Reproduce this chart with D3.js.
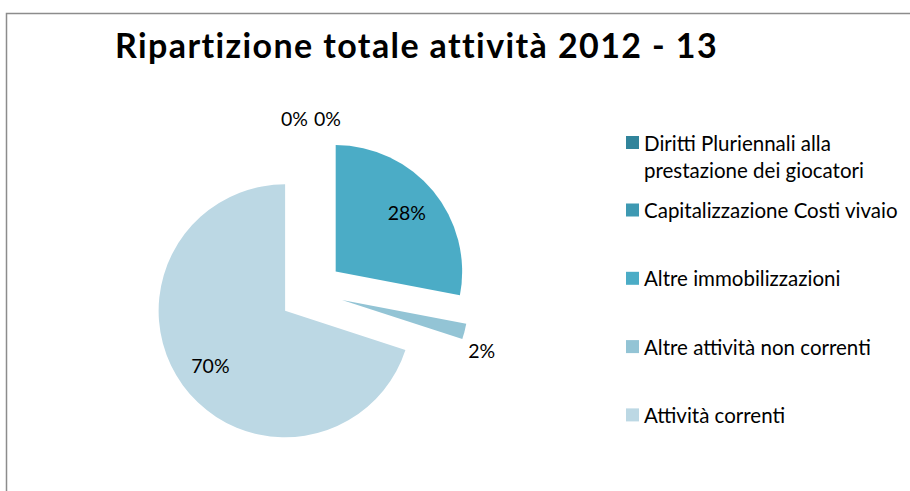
<!DOCTYPE html>
<html>
<head>
<meta charset="utf-8">
<script src="https://cdn.jsdelivr.net/npm/d3@7"></script>
<style>
  body { margin: 0; background: #fff; }
  svg { display: block; }
  text { font-family: Lato, "Noto Sans", sans-serif; fill: #000; }
</style>
</head>
<body>
<svg id="chart" width="910" height="491"></svg>
<script>
// Asset breakdown, season 2012-13
const chartTitle = "Ripartizione totale attività 2012 - 13";
const categories = [
  "Diritti Pluriennali alla prestazione dei giocatori",
  "Capitalizzazione Costi vivaio",
  "Altre immobilizzazioni",
  "Altre attività non correnti",
  "Attività correnti"
];
const values = [0, 0, 28, 2, 70];
const colors = ["#31849B", "#3E99B2", "#4BACC6", "#93C4D5", "#BCD8E4"];

const W = 910, H = 491;
const svg = d3.select("#chart");

// chart frame (runs past the right and bottom edges)
svg.append("rect")
  .attr("x", 6.5).attr("y", 13.5)
  .attr("width", W + 20).attr("height", H + 20)
  .attr("fill", "#fff")
  .attr("stroke", "#8c8c8c")
  .attr("stroke-width", 1.5);

svg.append("text")
  .attr("x", 416.5).attr("y", 57.5)
  .attr("text-anchor", "middle")
  .style("font-weight", "bold")
  .style("font-size", "34px")
  .style("letter-spacing", "1.4px")
  .text(chartTitle);

// exploded pie
const cx = 311, cy = 292, r = 126.5, explode = 32;
const total = d3.sum(values);
const pie = d3.pie().sort(null).value(d => d);
const arcs = pie(values);
const arc = d3.arc().innerRadius(0).outerRadius(r);

const dir = a => [Math.sin(a), -Math.cos(a)];
const mid = d => (d.startAngle + d.endAngle) / 2;
const shift = d => dir(mid(d)).map(v => v * explode);

const g = svg.append("g").attr("transform", `translate(${cx},${cy})`);

g.selectAll("path.slice")
  .data(arcs)
  .join("path")
  .attr("class", "slice")
  .attr("d", arc)
  .attr("fill", (d, i) => colors[i])
  .attr("transform", d => `translate(${shift(d)})`);

// percentage labels: inside for large slices, outside for small ones
const pct = d => Math.round(d.value / total * 100) + "%";
const zeroArcs = arcs.filter(d => d.value === 0);
function labelPos(d) {
  const s = shift(d);
  if (d.value === 0) {
    const k = zeroArcs.indexOf(d);
    const [ux, uy] = dir(d.startAngle);
    const dist = r + explode + 15;
    return [ux * dist + (k - (zeroArcs.length - 1) / 2) * 33, uy * dist];
  }
  if (d.value / total < 0.05) {
    const [ux, uy] = dir(d.endAngle + 0.03);
    return [s[0] + ux * (r + 22), s[1] + uy * (r + 22)];
  }
  const [ux, uy] = dir(mid(d));
  return [s[0] + ux * r * 0.73, s[1] + uy * r * 0.73];
}

g.selectAll("text.pct")
  .data(arcs)
  .join("text")
  .attr("class", "pct")
  .attr("x", d => labelPos(d)[0])
  .attr("y", d => labelPos(d)[1])
  .attr("text-anchor", "middle")
  .attr("dominant-baseline", "central")
  .style("font-size", "19.5px")
  .text(pct);

// legend
const legend = svg.append("g");
const legendY = i => i === 0 ? 142.5 : 210 + (i - 1) * 68.3;
const maxLegendWidth = 272;

categories.forEach((name, i) => {
  const y = legendY(i);
  legend.append("rect")
    .attr("x", 626).attr("y", y - 6.5)
    .attr("width", 13).attr("height", 13)
    .attr("fill", colors[i]);
  const t = legend.append("text")
    .attr("x", 644).attr("y", y)
    .attr("dominant-baseline", "central")
    .style("font-size", "20.5px");
  // wrap long names onto extra lines
  const words = name.split(" ");
  let line = [];
  let tspan = t.append("tspan").attr("x", 644).attr("dy", 0);
  words.forEach(w => {
    line.push(w);
    tspan.text(line.join(" "));
    if (tspan.node().getComputedTextLength() > maxLegendWidth && line.length > 1) {
      line.pop();
      tspan.text(line.join(" "));
      line = [w];
      tspan = t.append("tspan").attr("x", 644).attr("dy", 27.3).text(w);
    }
  });
});
</script>
</body>
</html>
